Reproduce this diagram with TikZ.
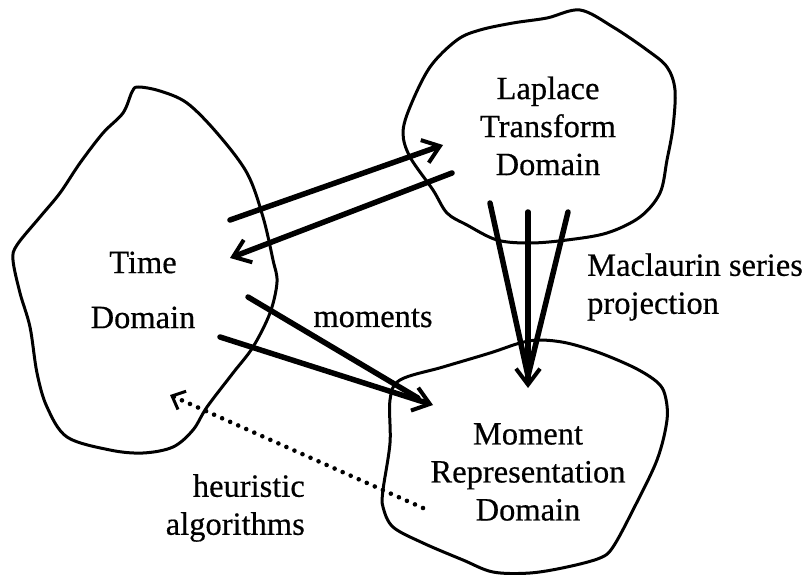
\documentclass[tikz,border=0pt]{standalone}
\usepackage{fontspec}
\setmainfont{Liberation Serif}[FakeBold=0.5]
\usetikzlibrary{arrows.meta}
\begin{document}
\begin{tikzpicture}[x=1pt,y=-1pt,
  blob/.style={line width=3pt, line join=round},
  flow/.style={line width=5.5pt, line cap=round},
  tip/.style={-{Straight Barb[length=16pt,width=24pt,line width=4pt]}},
  lbl/.style={font=\fontsize{32.5}{38}\selectfont, align=center, inner sep=0pt},
  hint/.style={line width=4.6pt, line cap=round, dash pattern=on 0pt off 8.8pt}]
\useasboundingbox (0,0) rectangle (804,575);

% domain outlines
\draw[blob] plot[smooth cycle, tension=0.55] coordinates {
  (138,87) (160,91) (187,103) (217,133) (247,173) (263,217) (273,260)
  (277,282) (270,313) (253,347) (233,373) (207,407) (193,430) (173,447)
  (143,453) (110,450) (67,437) (47,407) (37,373) (30,327) (20,293)
  (13,260) (17,245) (40,217) (60,193) (80,163) (103,133) (123,113) (132,92)};
\draw[blob] plot[smooth cycle, tension=0.55] coordinates {
  (547,18) (580,10) (613,27) (647,50) (667,67) (675,90) (673,127)
  (667,160) (660,193) (640,217) (607,233) (567,240) (530,243) (497,240)
  (467,225) (447,213) (433,190) (410,157) (403,133) (410,107) (430,67)
  (457,40) (480,30) (513,23)};
\draw[blob] plot[smooth cycle, tension=0.55] coordinates {
  (400,380) (443,367) (490,353) (520,343) (540,340) (567,343) (600,353)
  (635,368) (657,382) (665,395) (667,420) (657,460) (633,510) (613,547)
  (600,558) (567,567) (530,573) (493,572) (463,560) (423,543) (393,527)
  (383,507) (383,490) (390,443) (390,400)};

% domain names
\node[lbl] (time) at (143,290) {Time\\[17pt]Domain};
\node[lbl] (laplace) at (548,126) {Laplace\\Transform\\Domain};
\node[lbl] (moment) at (528,472) {Moment\\Representation\\Domain};

% edge labels
\node[lbl, anchor=west, align=left] (maclaurin) at (587,287) {Maclaurin series\\projection};
\node[lbl] (moments) at (373,318) {moments};
\node[lbl, anchor=east, align=right] (heuristic) at (305,508) {heuristic\\algorithms};

% connector end points
\coordinate (a1s) at (230,220); \coordinate (a1e) at (443,145);
\coordinate (a2s) at (452,173); \coordinate (a2e) at (230,258);
\coordinate (m1s) at (248,297); \coordinate (m2s) at (220,337);
\coordinate (mtip) at (433,405); \coordinate (mnear) at (418,398);
\coordinate (p1s) at (490,203); \coordinate (p2s) at (528,212);
\coordinate (p3s) at (568,212); \coordinate (ptip) at (528,388);
\coordinate (pnear) at (528,376);
\coordinate (hs) at (423,508); \coordinate (he) at (170,395);

% transform pair
\draw[flow, tip] (a1s) -- (a1e);
\draw[flow, tip] (a2s) -- (a2e);

% moments
\draw[flow] (m1s) -- (mnear);
\draw[flow, tip] (m2s) -- (mtip);

% Maclaurin projection
\draw[flow] (p1s) -- (pnear);
\draw[flow] (p3s) -- (pnear);
\draw[flow, tip] (p2s) -- (ptip);

% heuristic algorithms
\draw[hint, -{Straight Barb[length=11pt,width=20pt,line width=3pt]}] (hs) -- (he);
\end{tikzpicture}
\end{document}
